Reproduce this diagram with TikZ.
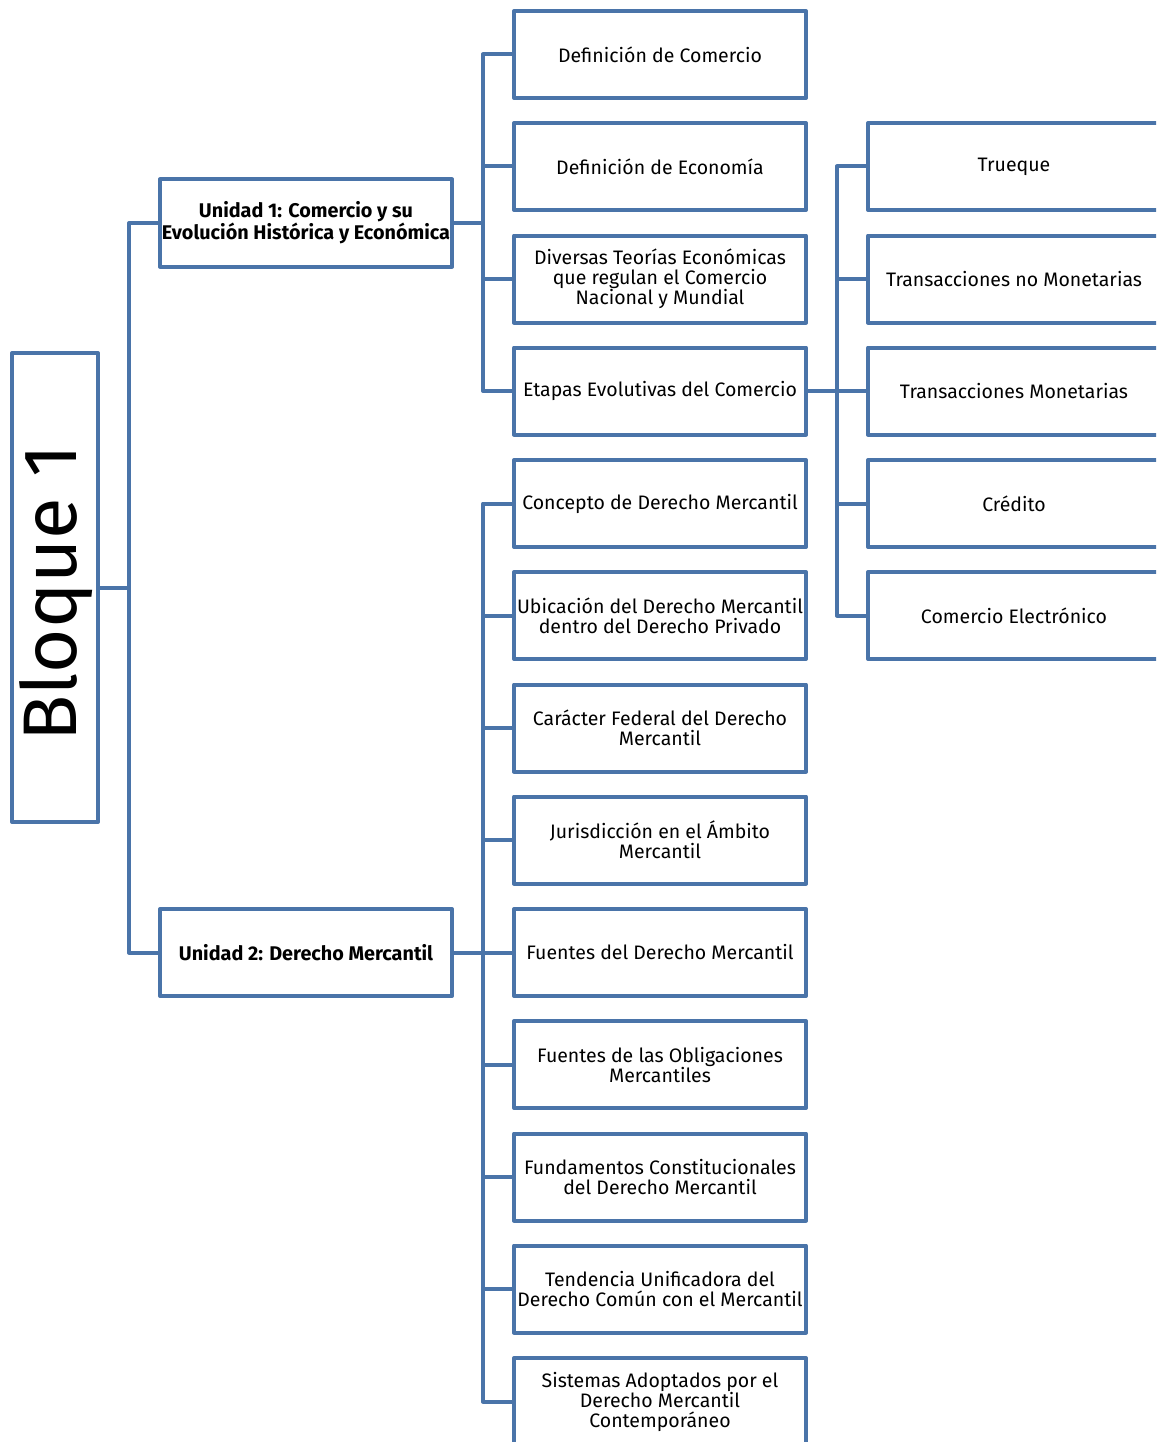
\documentclass[tikz,border=0pt]{standalone}
\usepackage{fontspec}
\setmainfont{Fira Sans}
\definecolor{lineblue}{HTML}{4A74A9}
\begin{document}
\begin{tikzpicture}[x=1pt,y=-1pt,
  box/.style={draw=lineblue,line width=4pt,line join=round,fill=white,
    minimum width=292pt,minimum height=87pt,inner sep=0pt,align=center,
    font=\fontsize{19.5}{20}\selectfont},
  unitbox/.style={box,font=\fontsize{19.8}{20}\selectfont\bfseries},
  link/.style={draw=lineblue,line width=4pt,line join=round}]
\useasboundingbox (0,0) rectangle (1156,1442);
\begin{scope}
\clip (0,0) rectangle (1156,1442);
% root
\node[box,minimum width=86pt,minimum height=469pt] (b) at (55,587.5) {};
\node[rotate=90,font=\fontsize{76}{76}\selectfont,inner sep=0pt] (bt) at (56,593) {Bloque 1};
% units
\node[unitbox] (u1) at (306,223) {Unidad 1: Comercio y su\\Evolución Histórica y Económica};
\node[unitbox] (u2) at (306,952.5) {Unidad 2: Derecho Mercantil};
% unit 1 children
\node[box] (a1) at (660,54.5) {Definición de Comercio};
\node[box] (a2) at (660,166.5) {Definición de Economía};
\node[box] (a3) at (660,279) {Diversas Teorías Económicas\\que regulan el Comercio\\Nacional y Mundial};
\node[box] (a4) at (660,391) {Etapas Evolutivas del Comercio};
% unit 2 children
\node[box] (c1) at (660,503.5) {Concepto de Derecho Mercantil};
\node[box] (c2) at (660,615.5) {Ubicación del Derecho Mercantil\\dentro del Derecho Privado};
\node[box] (c3) at (660,728) {Carácter Federal del Derecho\\Mercantil};
\node[box] (c4) at (660,840) {Jurisdicción en el Ámbito\\Mercantil};
\node[box] (c5) at (660,952.5) {Fuentes del Derecho Mercantil};
\node[box] (c6) at (660,1064.5) {Fuentes de las Obligaciones\\Mercantiles};
\node[box] (c7) at (660,1177) {Fundamentos Constitucionales\\del Derecho Mercantil};
\node[box] (c8) at (660,1289) {Tendencia Unificadora del\\Derecho Común con el Mercantil};
\node[box] (c9) at (660,1401.5) {Sistemas Adoptados por el\\Derecho Mercantil\\Contemporáneo};
% etapas children
\node[box] (e1) at (1014,166.5) {Trueque};
\node[box] (e2) at (1014,279) {Transacciones no Monetarias};
\node[box] (e3) at (1014,391) {Transacciones Monetarias};
\node[box] (e4) at (1014,503.5) {Crédito};
\node[box] (e5) at (1014,615.5) {Comercio Electrónico};
% connectors
\foreach \t in {u1,u2}
  \draw[link] (b.east) -- ++(29,0) |- (\t.west);
\foreach \t in {a1,a2,a3,a4}
  \draw[link] (u1.east) -- ++(29,0) |- (\t.west);
\foreach \t in {c1,c2,c3,c4,c5,c6,c7,c8,c9}
  \draw[link] (u2.east) -- ++(29,0) |- (\t.west);
\foreach \t in {e1,e2,e3,e4,e5}
  \draw[link] (a4.east) -- ++(29,0) |- (\t.west);
\end{scope}
\end{tikzpicture}
\end{document}
